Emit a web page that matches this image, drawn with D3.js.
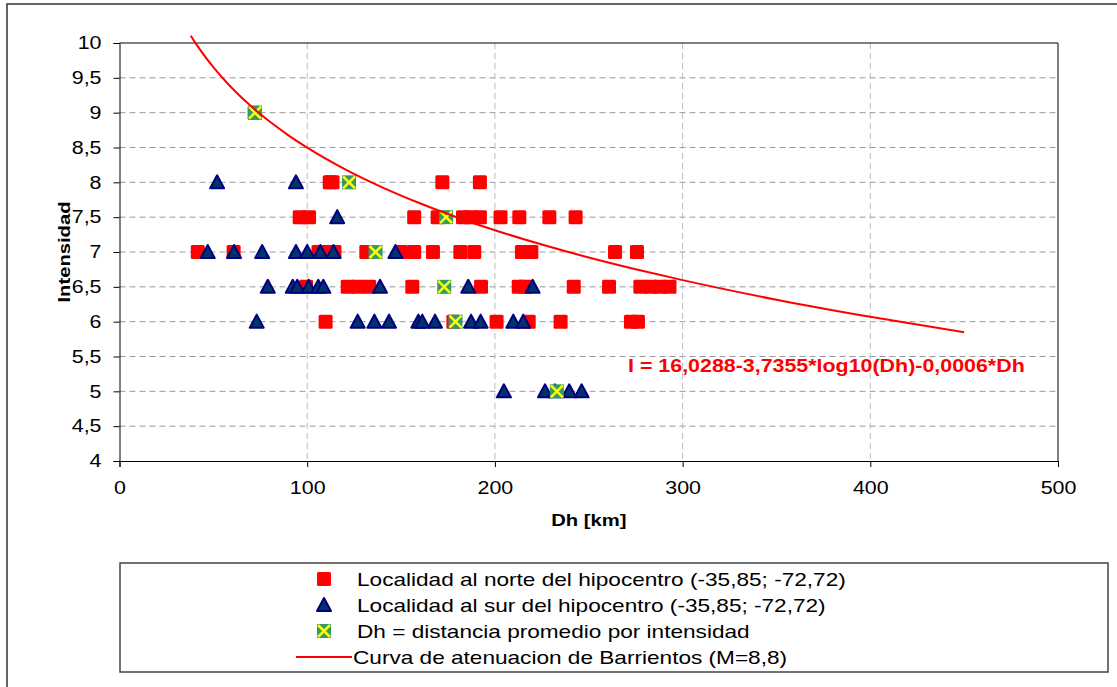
<!DOCTYPE html>
<html>
<head>
<meta charset="utf-8">
<script src="https://cdn.jsdelivr.net/npm/d3@7"></script>
<style>
  body { margin: 0; background: #fff; }
  text { font-family: Arial, "Liberation Sans", sans-serif; }
</style>
</head>
<body>
<script>
// Localidad al norte del hipocentro
var northDh = [72, 112, 113.5, 172, 192,
  96, 101, 157, 169.5, 183, 187, 192, 203, 213, 229, 243,
  41.7, 60.8, 106, 110, 114.5, 131.5, 150, 157, 167, 181.6, 189, 214.4, 219.4, 264, 275.7,
  99.4, 121.6, 127, 133, 156, 192.6, 212.7, 216, 242, 260.8, 277.5, 283, 288, 293,
  109.8, 177.9, 200.9, 218, 235, 272.5, 276.2];
var northI = [9, 8, 8, 8, 8,
  7.5, 7.5, 7.5, 7.5, 7.5, 7.5, 7.5, 7.5, 7.5, 7.5, 7.5,
  7, 7, 7, 7, 7, 7, 7, 7, 7, 7, 7, 7, 7, 7, 7,
  6.5, 6.5, 6.5, 6.5, 6.5, 6.5, 6.5, 6.5, 6.5, 6.5, 6.5, 6.5, 6.5, 6.5,
  6, 6, 6, 6, 6, 6, 6];

// Localidad al sur del hipocentro
var southDh = [52, 94, 116,
  47, 61, 76, 94, 100, 107, 114, 147,
  79, 92.3, 94.7, 100.8, 105.9, 108.6, 138.8, 185.8, 220.1,
  73.1, 126.9, 135.8, 143.6, 159.2, 161.3, 168.1, 187.3, 192.4, 209.8, 215.1,
  204.8, 226.7, 232, 239.6, 246.2];
var southI = [8, 8, 7.5,
  7, 7, 7, 7, 7, 7, 7, 7,
  6.5, 6.5, 6.5, 6.5, 6.5, 6.5, 6.5, 6.5, 6.5,
  6, 6, 6, 6, 6, 6, 6, 6, 6, 6, 6,
  5, 5, 5, 5, 5];

// Dh = distancia promedio por intensidad
var avgDh = [72.2, 122.3, 174, 136.4, 173, 179, 233];
var avgI = [9, 8, 7.5, 7, 6.5, 6, 5];

// Curva de atenuacion de Barrientos (M=8,8)
var curveDh = [38, 40, 50, 60, 70, 80, 90, 100, 120, 140, 160, 180, 200, 225, 250, 275, 300, 350, 400, 450];
var curveI = [10.105, 10.02, 9.652, 9.35, 9.094, 8.872, 8.675, 8.498, 8.19, 7.928, 7.699, 7.496, 7.313, 7.107, 6.921, 6.752, 6.596, 6.315, 6.069, 5.848];

var xTicks = [0, 100, 200, 300, 400, 500];
var yTicks = [4, 4.5, 5, 5.5, 6, 6.5, 7, 7.5, 8, 8.5, 9, 9.5, 10];

var legendLabels = [
  "Localidad al norte del hipocentro (-35,85; -72,72)",
  "Localidad al sur del hipocentro (-35,85; -72,72)",
  "Dh = distancia promedio por intensidad",
  "Curva de atenuacion de Barrientos (M=8,8)"
];
var equation = "I = 16,0288-3,7355*log10(Dh)-0,0006*Dh";

var w = 1117, h = 687;
var sx = 1.19; // the original text is a bit wide for its height

var svg = d3.select("body").append("svg")
  .attr("width", w)
  .attr("height", h);

// outer chart frame
svg.append("rect")
  .attr("x", 7).attr("y", 4)
  .attr("width", 1130).attr("height", 700)
  .attr("fill", "white")
  .attr("stroke", "#333").attr("stroke-width", 1.5);

var plotLeft = 119.5, plotRight = 1058, plotTop = 43, plotBottom = 461;
var x = d3.scaleLinear().domain([0, 500]).range([plotLeft, plotRight]);
var y = d3.scaleLinear().domain([4, 10]).range([plotBottom, plotTop]);

var fmt = function(d) { return String(d).replace(".", ","); };

function label(px, py, str, size, bold, color, anchor) {
  return svg.append("text")
    .attr("transform", "translate(" + px + "," + py + ") scale(" + sx + ",1)")
    .attr("text-anchor", anchor || "start")
    .attr("font-size", size)
    .attr("font-weight", bold ? "bold" : "normal")
    .attr("fill", color || "#000")
    .text(str);
}

// grid
svg.append("g").selectAll("line")
  .data(yTicks.filter(d => d > 4 && d < 10))
  .enter().append("line")
  .attr("x1", plotLeft).attr("x2", plotRight)
  .attr("y1", d => y(d)).attr("y2", d => y(d))
  .attr("stroke", "#999").attr("stroke-dasharray", "6,4");
svg.append("g").selectAll("line")
  .data(xTicks.filter(d => d > 0 && d < 500))
  .enter().append("line")
  .attr("x1", d => x(d)).attr("x2", d => x(d))
  .attr("y1", plotTop).attr("y2", plotBottom)
  .attr("stroke", "#bbb").attr("stroke-dasharray", "6,4");

// plot frame
svg.append("path")
  .attr("d", "M" + plotLeft + "," + plotTop + "H" + plotRight + "V" + plotBottom)
  .attr("fill", "none").attr("stroke", "#000").attr("stroke-width", 1);

// axes
var yAxis = svg.append("g")
  .attr("transform", "translate(" + plotLeft + ",0)")
  .call(d3.axisLeft(y).tickValues(yTicks).tickFormat(fmt).tickSize(6).tickPadding(8));
var xAxis = svg.append("g")
  .attr("transform", "translate(0," + plotBottom + ")")
  .call(d3.axisBottom(x).tickValues(xTicks).tickFormat(fmt).tickSize(6).tickPadding(14));
[yAxis, xAxis].forEach(function(g) {
  g.select(".domain").attr("stroke", "#000");
  g.selectAll(".tick line").attr("stroke", "#000");
  g.selectAll("text").attr("font-size", 18).attr("fill", "#000")
    .style("font-family", "Arial, 'Liberation Sans', sans-serif");
});
yAxis.selectAll("text")
  .attr("x", -18 / sx)
  .attr("transform", "scale(" + sx + ",1)");
xAxis.selectAll("text")
  .attr("transform", "scale(" + sx + ",1)");

label((plotLeft + plotRight) / 2, 526, "Dh [km]", 17, true, "#000", "middle");
svg.append("text")
  .attr("transform", "translate(70," + ((plotTop + plotBottom) / 2) + ") rotate(-90) scale(" + sx + ",1)")
  .attr("text-anchor", "middle")
  .attr("font-size", 17).attr("font-weight", "bold")
  .text("Intensidad");

// markers
function square(g, cx, cy) {
  g.append("rect")
    .attr("x", cx - 7).attr("y", cy - 7)
    .attr("width", 14).attr("height", 14)
    .attr("rx", 1.5)
    .attr("fill", "#ff0000");
}
function triangle(g, cx, cy) {
  g.append("path")
    .attr("d", "M" + cx + "," + (cy - 7) + "L" + (cx + 7) + "," + (cy + 6) + "L" + (cx - 7) + "," + (cy + 6) + "Z")
    .attr("fill", "#003366").attr("stroke", "#000080")
    .attr("stroke-width", 2).attr("stroke-linejoin", "round");
}
function xmark(g, cx, cy) {
  g.append("rect")
    .attr("x", cx - 7).attr("y", cy - 7)
    .attr("width", 14).attr("height", 14)
    .attr("fill", "#339966");
  g.append("path")
    .attr("d", "M" + (cx - 6) + "," + (cy - 6) + "L" + (cx + 6) + "," + (cy + 6) +
               "M" + (cx + 6) + "," + (cy - 6) + "L" + (cx - 6) + "," + (cy + 6))
    .attr("stroke", "#ffff00").attr("stroke-width", 2.5).attr("fill", "none");
}

var north = svg.append("g");
northDh.forEach(function(d, i) { square(north, x(d), y(northI[i])); });
var south = svg.append("g");
southDh.forEach(function(d, i) { triangle(south, x(d), y(southI[i])); });
var avg = svg.append("g");
avgDh.forEach(function(d, i) { xmark(avg, x(d), y(avgI[i])); });

// curve
var line = d3.line()
  .x(d => x(d[0])).y(d => y(d[1]))
  .curve(d3.curveMonotoneX);
svg.append("path")
  .datum(curveDh.map((d, i) => [d, curveI[i]]))
  .attr("d", line)
  .attr("fill", "none").attr("stroke", "#ff0000").attr("stroke-width", 2);

label(628, 372, equation, 18, true, "#ff0000");

// legend
svg.append("rect")
  .attr("x", 120).attr("y", 563)
  .attr("width", 988).attr("height", 109)
  .attr("fill", "white").attr("stroke", "#444").attr("stroke-width", 1.5);
var lg = svg.append("g");
var rowY = [579, 605, 631, 657];
square(lg, 324, rowY[0]);
triangle(lg, 324, rowY[1]);
xmark(lg, 324, rowY[2]);
lg.append("line")
  .attr("x1", 296).attr("x2", 352)
  .attr("y1", rowY[3]).attr("y2", rowY[3])
  .attr("stroke", "#ff0000").attr("stroke-width", 2);
legendLabels.forEach(function(d, i) {
  label(i == 3 ? 353 : 357, rowY[i] + 7, d, 19, false, "#000");
});
</script>
</body>
</html>
